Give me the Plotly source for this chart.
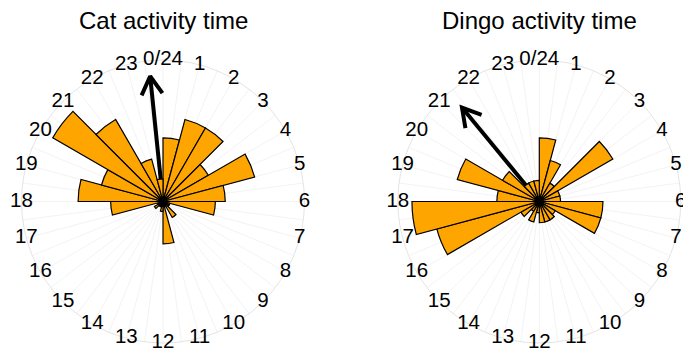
import numpy as np
import plotly.graph_objects as go

# Hourly bins (bin h covers h:00 - h+1:00)
hours = list(range(24))
hour_labels = ["0/24"] + [str(h) for h in range(1, 24)]

# Rose-diagram radii per hour bin (fraction of the outer circle)
cat_radius = [0.45, 0.60, 0.60, 0.37, 0.67, 0.44, 0.37, 0.05, 0.05, 0.13, 0.04, 0.30,
              0.07, 0.04, 0.04, 0.07, 0.04, 0.37, 0.60, 0.45, 0.90, 0.67, 0.31, 0.16]
dingo_radius = [0.45, 0.30, 0.15, 0.60, 0.15, 0.15, 0.45, 0.45, 0.13, 0.15, 0.15, 0.15,
                0.08, 0.15, 0.08, 0.15, 0.75, 0.90, 0.30, 0.60, 0.30, 0.15, 0.15, 0.15]

# Mean direction (hour) and mean resultant length of each species
cat_mean_hour, cat_mean_len = 23.61, 0.89
dingo_mean_hour, dingo_mean_len = 21.37, 0.86

titles = ["Cat activity time", "Dingo activity time"]

FONT = "Liberation Sans, Arial, sans-serif"
ORANGE = "#FFA500"


def arrow_path(hour, length, head=0.148, spread=30):
    """Shaft from the centre plus a V-shaped head, returned as polar (r, theta)."""
    t = np.radians(hour * 15)
    unit = np.array([np.sin(t), np.cos(t)])
    tip = unit * length
    arms = []
    for s in (spread, -spread):
        a = np.radians(s)
        rot = np.array([[np.cos(a), -np.sin(a)], [np.sin(a), np.cos(a)]])
        p = tip + head * (rot @ (-unit))
        arms.append((float(np.hypot(p[0], p[1])), float(np.degrees(np.arctan2(p[0], p[1])) % 360)))
    th = hour * 15
    r = [0, length, None, arms[0][0], length, arms[1][0]]
    theta = [th, th, None, arms[0][1], th, arms[1][1]]
    return r, theta


fig = go.Figure()

species = [
    (cat_radius, cat_mean_hour, cat_mean_len, "polar", "polar2"),
    (dingo_radius, dingo_mean_hour, dingo_mean_len, "polar3", "polar4"),
]

for radius, mh, ml, base, top in species:
    ar, at = arrow_path(mh, ml)
    fig.add_trace(go.Scatterpolar(
        r=ar, theta=at, mode="lines", subplot=base,
        line=dict(color="black", width=4), connectgaps=False,
        hoverinfo="skip", showlegend=False,
    ))
    fig.add_trace(go.Barpolar(
        r=radius, theta=[(h + 0.5) * 15 for h in hours], width=[15] * 24,
        subplot=top,
        marker=dict(color=ORANGE, line=dict(color="black", width=1.2)),
        showlegend=False,
    ))
    # hour labels sit centred on the outer circle
    fig.add_trace(go.Scatterpolar(
        r=[1.0] * 24, theta=[h * 15 for h in hours], text=hour_labels,
        mode="text", subplot=top, cliponaxis=False,
        textposition="middle center",
        textfont=dict(family=FONT, size=20.5, color="black"),
        hoverinfo="skip", showlegend=False,
    ))

W, H = 683, 354
R = 141.5
centers = [(163.0, 201.5), (539.3, 201.5)]


def domain(cx, cy):
    return dict(x=[(cx - R) / W, (cx + R) / W],
                y=[(H - cy - R) / H, (H - cy + R) / H])


grid_axis = dict(rotation=90, direction="clockwise",
                 tickvals=list(np.arange(0, 360, 7.5)), showticklabels=False,
                 ticks="", showgrid=True, gridcolor="#f3f3f3", gridwidth=1,
                 showline=True, linecolor="#e4e4e4", linewidth=1)
plain_axis = dict(rotation=90, direction="clockwise", showticklabels=False,
                  ticks="", showgrid=False, showline=False)
radial = dict(range=[0, 1], visible=False)

layout_polars = {}
for i, (cx, cy) in enumerate(centers):
    d = domain(cx, cy)
    base = "polar" if i == 0 else "polar3"
    top = "polar2" if i == 0 else "polar4"
    layout_polars[base] = dict(domain=d, bgcolor="rgba(0,0,0,0)",
                               angularaxis=grid_axis, radialaxis=radial)
    layout_polars[top] = dict(domain=d, bgcolor="rgba(0,0,0,0)",
                              angularaxis=plain_axis, radialaxis=radial)

annotations = [
    dict(text=titles[i], x=cx / W, y=1 - 20.5 / H, xref="paper", yref="paper",
         xanchor="center", yanchor="middle", showarrow=False,
         font=dict(family=FONT, size=24, color="black"))
    for i, (cx, cy) in enumerate(centers)
]

fig.update_layout(
    width=W, height=H,
    margin=dict(l=0, r=0, t=0, b=0),
    paper_bgcolor="white",
    showlegend=False,
    annotations=annotations,
    **layout_polars,
)

fig.write_html("out.html")
